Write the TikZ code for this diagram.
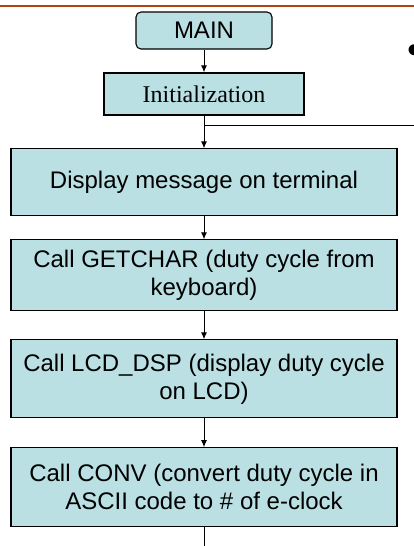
\documentclass[tikz,border=0pt]{standalone}
\usepackage{fontspec}
\setmainfont{Liberation Sans}
\newfontfamily\initfont{Liberation Serif}
\usetikzlibrary{arrows.meta}
\definecolor{boxfill}{HTML}{BAE0E4}
\definecolor{rulecol}{HTML}{B0440F}
\tikzset{
  block/.style={draw,line width=1.1pt,fill=boxfill,align=center,
    font=\fontsize{24}{28}\selectfont,inner sep=0pt},
  proc/.style={block,minimum width=386pt},
  flow/.style={line width=1pt,-{Latex[length=7pt,width=6pt]}}
}

\begin{document}
\begin{tikzpicture}
      \useasboundingbox (0,0) rectangle (414pt,-546pt);
      \draw[rulecol,line width=2.5pt] (0,-6pt) -- (414pt,-6pt);

      \node [block,rounded corners=5pt,minimum width=136pt,minimum height=37pt] (main) at (204pt,-30.5pt) {MAIN};
      \node [block,below of=main,yshift=-35pt,minimum width=200pt,minimum height=42pt] (init) {\initfont Initialization};
      \node [proc,below of=init,yshift=-60pt,minimum height=67pt] (disp) {Display message on terminal};
      \node [proc,below of=disp,yshift=-64.5pt,minimum height=71pt] (getc) {Call GETCHAR (duty cycle from\\keyboard)};
      \node [proc,below of=getc,yshift=-75pt,minimum height=78pt] (lcd) {Call LCD\_DSP (display duty cycle\\on LCD)};
      \node [proc,below of=lcd,yshift=-80pt,minimum height=79pt] (conv) {Call CONV (convert duty cycle in\\ASCII code to \# of e-clock};
      \node [inner sep=0pt,font=\fontsize{40}{40}\selectfont] (dot) at (414.5pt,-54pt) {\textbullet};

      \coordinate (back) at (414pt,-125pt);
      \coordinate (fork) at (init.south |- back);
      \coordinate (next) at (conv.south |- 0,-546pt);

      \draw[flow] (main) -- (init);
      \draw[flow] (init) -- (disp);
      \draw[line width=1pt] (fork) -- (back);
      \draw[flow] (disp) -- (getc);
      \draw[flow] (getc) -- (lcd);
      \draw[flow] (lcd) -- (conv);
      \draw[line width=1pt] (conv) -- (next);
    \end{tikzpicture}
\end{document}
